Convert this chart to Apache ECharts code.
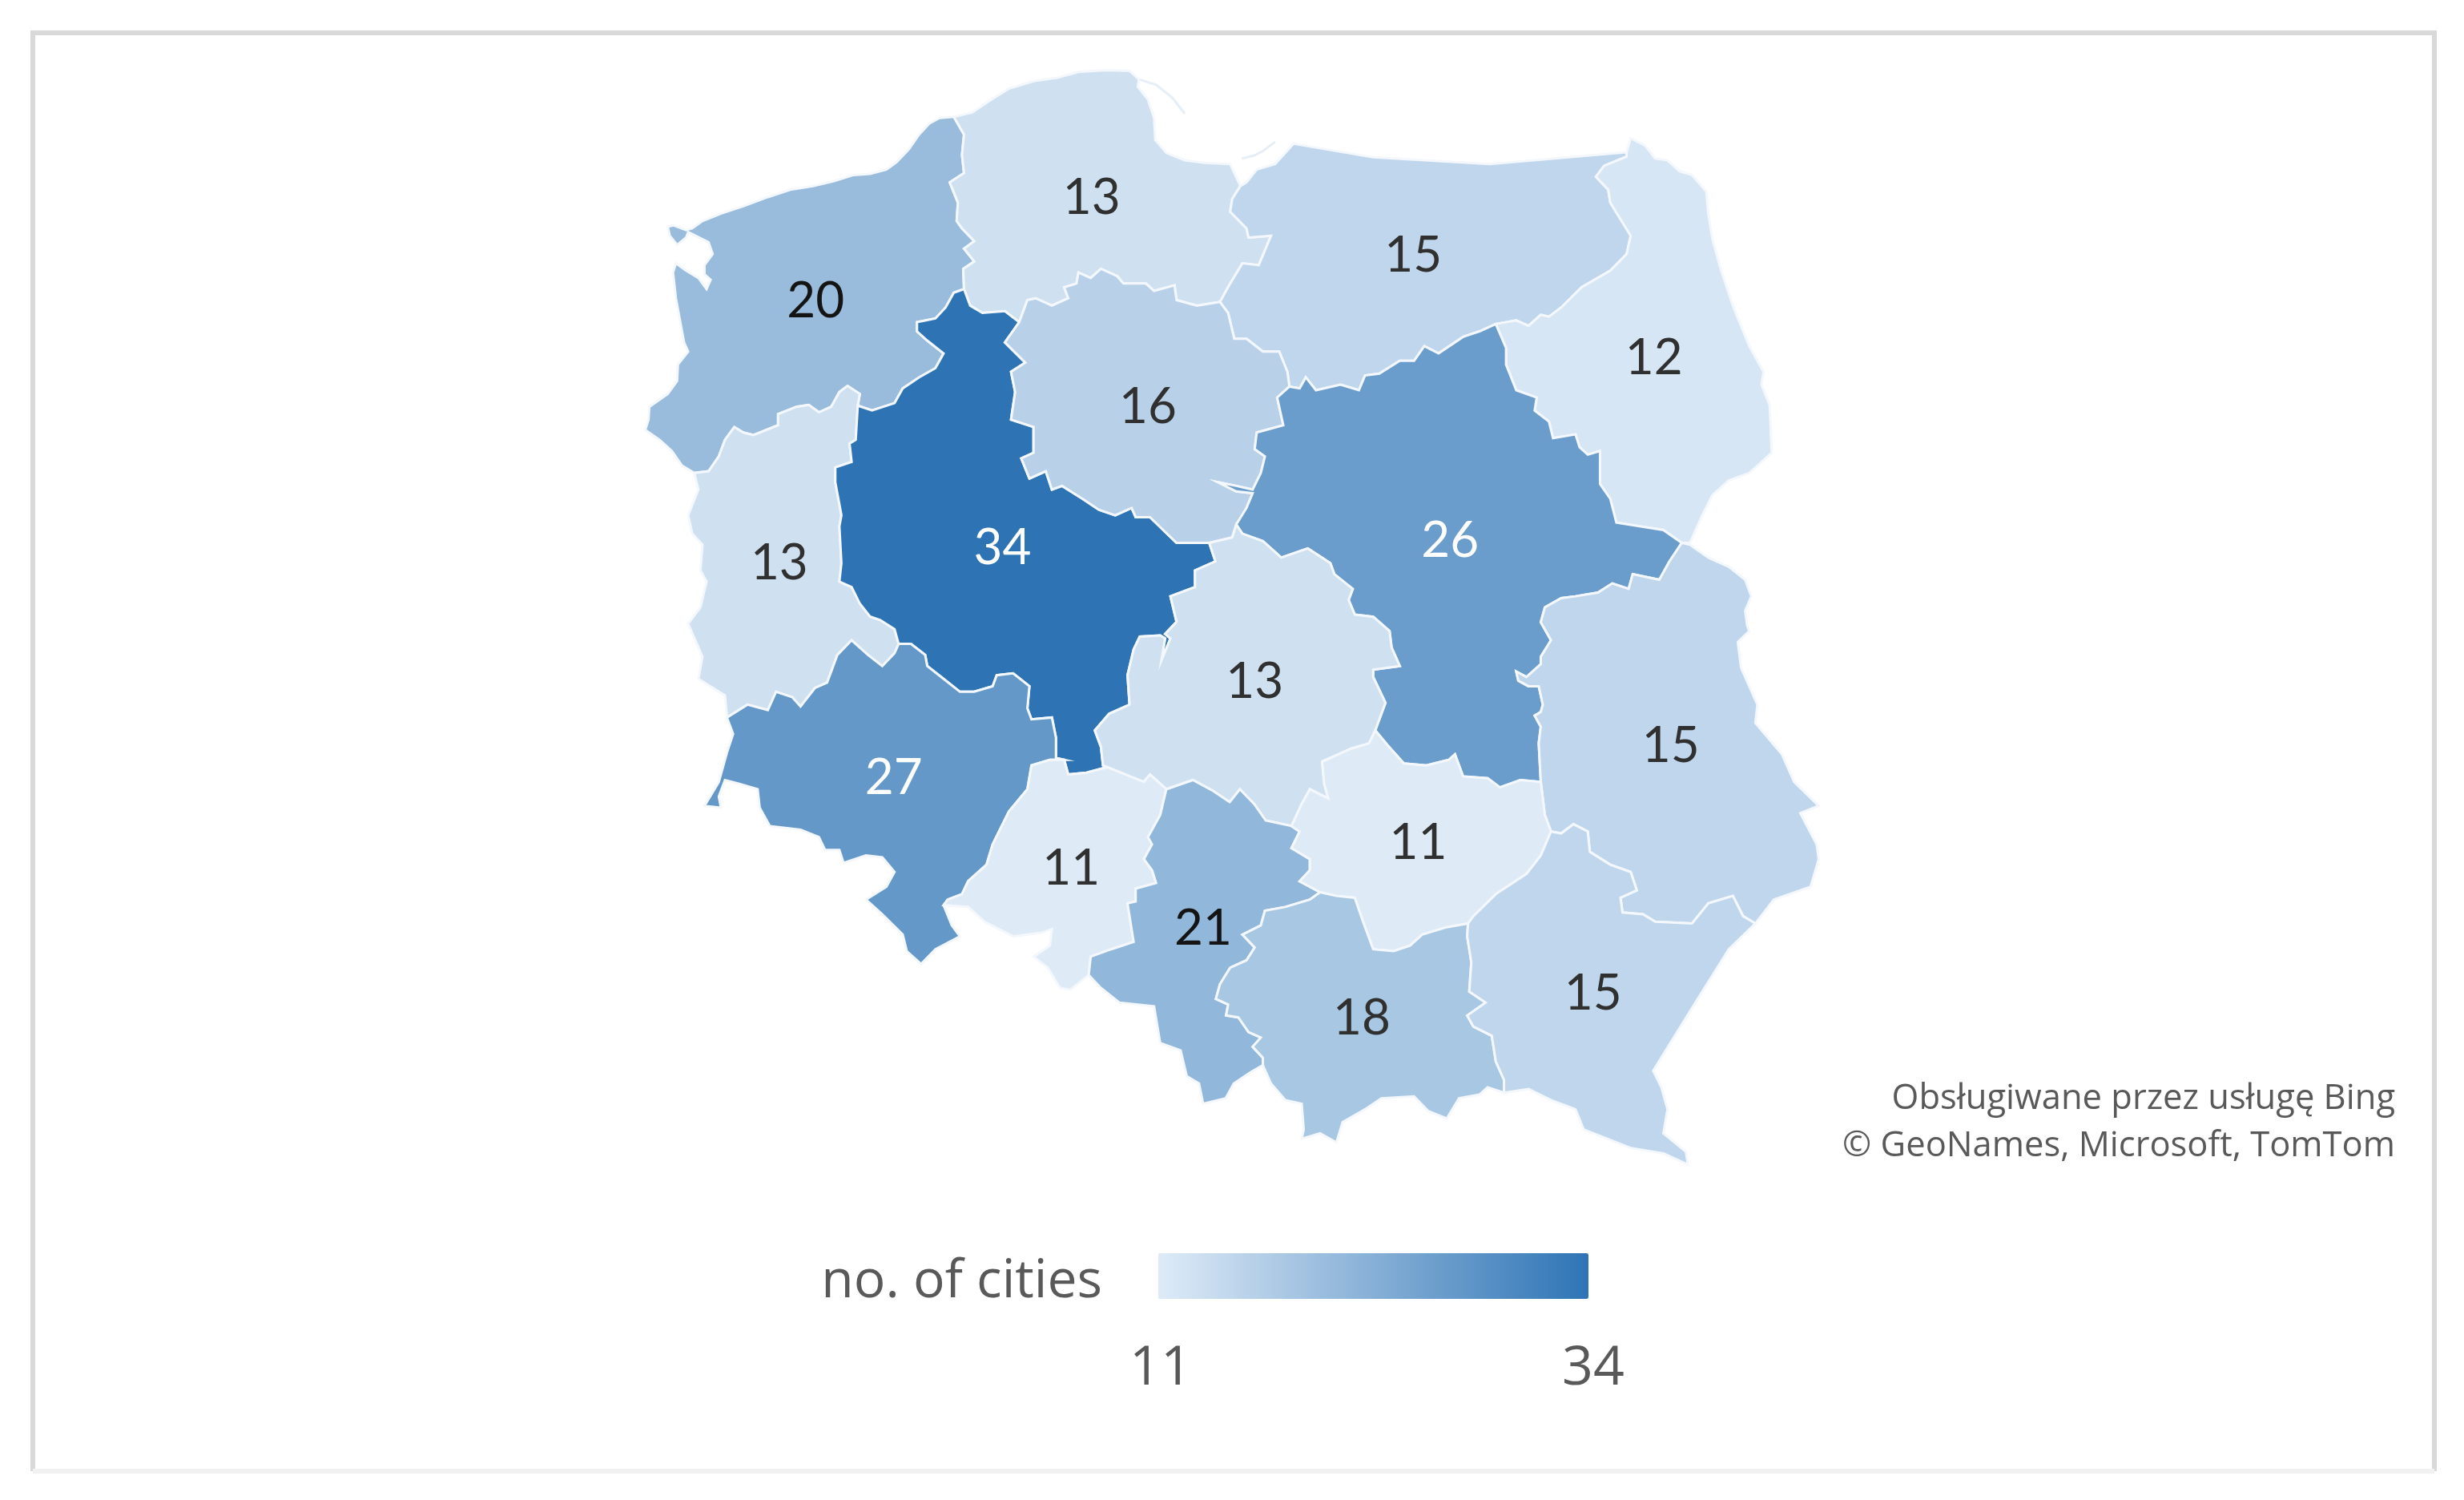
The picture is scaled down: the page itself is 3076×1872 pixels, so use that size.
<!DOCTYPE html>
<html lang="en">
<head>
<meta charset="UTF-8">
<title>Poland - no. of cities</title>
<script src="https://cdn.jsdelivr.net/npm/echarts@6/dist/echarts.min.js"></script>
<style>html,body{margin:0;padding:0;background:#fff}</style>
</head>
<body>
<div id="main" style="width:3076px;height:1872px;"></div>
<script>
// values
const regions = ['Zachodniopomorskie','Pomorskie','Warmińsko-Mazurskie','Podlaskie','Lubuskie','Wielkopolskie','Kujawsko-Pomorskie','Mazowieckie','Dolnośląskie','Łódzkie','Lubelskie','Opolskie','Śląskie','Świętokrzyskie','Małopolskie','Podkarpackie'];
const cities = [20,13,15,12,13,34,16,26,27,13,15,11,21,11,18,15];
const legendTitle = 'no. of cities';
const legendMin = 11;
const legendMax = 34;
const credits = ['Obsługiwane przez usługę Bing', '© GeoNames, Microsoft, TomTom'];

// borders were traced on four overlapping crops of the picture, each one squeezed
// to 1568x1568, so every crop gets its own little helper back to page pixels
const tile = (x0, y0) => pts => pts.map(p => [x0 + p[0] / 1.96, y0 + p[1] / 2.178]);
const A = tile(780, 60), B = tile(1500, 60), C = tile(780, 760), D = tile(1500, 760);

const arcs = {
  zpCoast: A([[805,187],[770,190],[745,205],[720,235],[695,275],[665,310],[640,330],[600,342],[560,345],[510,362],[460,375],[405,385],[350,405],[290,430],[235,450],[190,470],[165,490],[150,495],[120,482],[105,485],[110,510],[128,535],[150,515],[155,500],[205,528],[215,560],[195,590],[195,615],[210,630],[200,655],[180,625],[150,605],[125,585],[118,610],[125,680],[135,740],[145,800],[155,825],[130,860],[128,905],[105,940],[60,975],[58,1010],[50,1038],[85,1065],[115,1095],[140,1135],[170,1155]]),
  zpLb: A([[170,1155],[205,1150],[230,1110],[245,1065],[268,1030],[290,1045],[315,1052],[375,1025],[375,995],[420,975],[450,970],[475,990],[505,975],[525,935],[545,918],[575,940],[570,972]]),
  zpWp: A([[570,972],[605,985],[660,965],[680,925],[720,895],[760,870],[780,830],[740,795],[715,770],[715,745],[760,735],[785,705],[805,665],[830,655]]),
  zpPm: A([[830,655],[828,600],[855,580],[830,545],[855,525],[825,490],[812,470],[815,420],[795,365],[830,340],[825,290],[830,235],[805,187]]),
  pmCoast: A([[805,187],[850,175],[890,145],[940,110],[1000,90],[1060,80],[1110,65],[1180,60],[1235,62],[1258,85],[1255,105],[1280,140],[1295,190],[1298,250],[1325,285],[1370,305],[1420,312],[1481,315]]),
  pmWm0: B([[70,315],[95,375]]),
  pmWm: B([[95,375],[75,410],[70,445],[110,490],[115,515],[170,510],[140,590],[100,585],[70,640],[45,690]]),
  pmWp: A([[830,655],[845,700],[875,720],[930,715],[965,745]]),
  pmKp: [...A([[965,745],[985,685],[1005,680],[1045,700],[1085,680],[1075,650],[1105,640],[1110,610],[1140,625],[1165,600],[1205,620],[1220,640],[1275,640],[1295,660],[1345,645],[1350,685],[1400,700]]), ...B([[45,690]])],
  wmCoast: B([[95,375],[110,365],[135,330],[180,315],[205,285],[225,260],[420,297],[705,315],[1040,283]]),
  kpWm: B([[45,690],[65,720],[80,790],[110,790],[150,825],[190,825],[210,880],[215,920]]),
  mzWm: B([[215,920],[240,925],[255,895],[280,930],[340,915],[385,930],[400,890],[435,885],[485,850],[520,850],[545,810],[580,830],[640,785],[680,770],[720,750]]),
  wmPd: B([[720,750],[770,740],[800,755],[830,725],[850,730],[880,705],[930,650],[1000,605],[1040,560],[1050,510],[1025,465],[1000,420],[995,385],[965,350],[985,320],[1040,295],[1040,283]]),
  pdOuter: B([[1040,283],[1050,245],[1085,265],[1110,300],[1140,305],[1170,335],[1200,345],[1235,390],[1240,450],[1250,520],[1270,600],[1300,700],[1340,810],[1375,880],[1370,915],[1390,970],[1395,1100],[1340,1155],[1290,1175],[1250,1215],[1225,1270],[1195,1345],[1175,1345]]),
  mzPd: B([[720,750],[745,815],[745,860],[770,930],[820,950],[815,985],[850,1015],[860,1060],[915,1050],[925,1085],[945,1105],[975,1095],[975,1185],[1000,1225],[1015,1290],[1130,1310],[1175,1345]]),
  luOuter: [...B([[1175,1345],[1195,1350],[1240,1385],[1290,1410],[1330,1445],[1345,1490],[1330,1530]]), ...D([[1335,45],[1340,60],[1312,90],[1320,160],[1360,260],[1355,310],[1420,395],[1450,470],[1510,535],[1465,555],[1505,640],[1510,680],[1490,755],[1400,790],[1355,855]])],
  mzLu: [...B([[1175,1345],[1145,1395],[1120,1445],[1055,1430],[1045,1470],[1005,1455],[970,1480],[915,1490],[880,1495],[840,1520]]), ...D([[830,36],[855,85],[830,130],[830,150],[795,185],[770,170],[775,195],[800,210],[825,210],[835,260],[830,280],[815,290],[830,320],[825,365],[830,470]])],
  luSk: D([[830,470],[840,560],[855,605]]),
  luPk: D([[855,605],[880,610],[910,585],[945,605],[950,660],[1000,695],[1050,715],[1065,765],[1025,785],[1030,825],[1080,830],[1110,850],[1200,855],[1240,800],[1300,780],[1325,835],[1355,855]]),
  pkOuter: D([[1355,855],[1290,925],[1200,1085],[1105,1255],[1125,1300],[1140,1360],[1130,1425],[1185,1475],[1190,1510],[1130,1480],[1050,1465],[935,1415],[915,1360],[855,1335],[800,1305],[740,1315]]),
  skPk: D([[855,605],[830,670],[795,720],[720,775],[665,835],[652,855]]),
  pkMa: D([[652,855],[650,890],[660,960],[655,1040],[695,1070],[650,1105],[665,1135],[710,1160],[720,1230],[740,1280],[740,1315]]),
  mzSk: D([[830,470],[780,465],[730,485],[700,460],[640,455],[620,395],[605,410],[550,425],[495,420],[455,370],[425,330]]),
  skLd: D([[425,330],[410,365],[365,380],[295,415],[300,475],[310,515],[265,490],[245,530],[220,590]]),
  skSl: D([[220,590],[240,605],[220,650],[265,680],[265,710],[240,740],[290,770]]),
  skMa: D([[290,770],[330,780],[375,785],[395,850],[420,925],[470,930],[510,915],[540,885],[600,865],[652,855]]),
  maSl: D([[290,770],[265,790],[205,810],[155,820],[145,860],[100,885],[130,920],[110,955],[70,975],[45,1020],[35,1060],[65,1075],[60,1105],[90,1110],[115,1150],[145,1165],[125,1190],[150,1220],[150,1240]]),
  maOuter: D([[150,1240],[170,1290],[205,1335],[245,1345],[250,1415],[245,1440],[290,1425],[330,1450],[345,1395],[400,1360],[440,1330],[520,1325],[555,1365],[600,1385],[630,1330],[680,1320],[700,1300],[740,1315]]),
  slOuter: [...D([[150,1240]]), ...C([[1530,1260],[1490,1290],[1470,1330],[1415,1345],[1405,1290],[1375,1270],[1360,1200],[1310,1180],[1295,1080],[1210,1070],[1165,1030],[1135,995]])],
  slOp: C([[1135,995],[1140,945],[1190,925],[1245,905],[1230,800],[1250,795],[1250,760],[1300,745],[1290,710],[1270,680],[1290,640],[1280,620],[1310,560],[1325,490]]),
  slLd: [...C([[1325,490],[1390,465],[1440,495],[1480,525],[1505,490],[1540,530]]), ...D([[157,575],[220,590]])],
  opLd: C([[1325,490],[1285,450],[1270,470],[1180,430]]),
  opWp: C([[1180,430],[1130,445],[1085,450],[1075,410]]),
  opDs: C([[1075,410],[1040,410],[995,425],[985,490],[940,550],[900,640],[885,695],[840,740],[825,775],[790,790],[780,805]]),
  opOuter: C([[780,805],[840,810],[880,850],[950,890],[1020,880],[1045,870],[1040,915],[1000,945],[1035,975],[1065,1030],[1090,1035],[1135,995]]),
  dsOuter: C([[780,805],[800,860],[820,890],[760,925],[725,965],[690,930],[680,885],[630,830],[590,790],[640,755],[660,715],[630,675],[590,670],[535,690],[525,655],[490,655],[475,620],[430,600],[355,590],[330,540],[325,490],[280,475],[245,465],[230,510],[235,540],[195,535],[230,470],[250,390],[265,340],[250,295]]),
  dsLb: C([[250,295],[300,260],[350,275],[370,225],[410,240],[430,265],[465,215],[495,200],[520,125],[555,85],[595,125],[630,155],[660,120],[670,95]]),
  dsWp: C([[670,95],[700,95],[735,125],[740,155],[780,190],[820,225],[855,225],[900,210],[910,180],[950,175],[990,210],[985,270],[995,300],[1045,295],[1055,350],[1055,405],[1075,410]]),
  lbOuter: [...A([[170,1155],[180,1200],[155,1270],[165,1320],[190,1350],[185,1420],[200,1450],[185,1520]]), ...C([[155,40],[190,130],[180,190],[245,235],[250,295]])],
  lbWp: [...A([[570,972],[565,1065],[550,1075],[555,1125],[515,1140],[515,1180],[530,1270],[525,1300],[530,1400],[525,1450],[555,1465],[575,1510],[600,1545]]), ...C([[625,30],[660,55],[670,95]])],
  kpWp: A([[965,745],[930,800],[980,855],[945,880],[955,935],[945,1010],[1000,1030],[1000,1100],[970,1115],[990,1170],[1030,1150],[1045,1200],[1070,1190],[1120,1225],[1160,1255],[1200,1270],[1240,1250],[1250,1275],[1285,1275],[1350,1345],[1430,1345]]),
  kpMz: B([[215,920],[185,950],[200,1025],[135,1045],[130,1090],[155,1110],[145,1155],[125,1200],[85,1190],[40,1180],[85,1205],[125,1210],[110,1250],[85,1295]]),
  kpLd: [...B([[85,1295],[75,1330]]), ...A([[1430,1345]])],
  wpLd: [...A([[1430,1345],[1445,1395],[1395,1420],[1395,1465],[1335,1490]]), ...C([[1350,35],[1322,68],[1335,80],[1313,140],[1322,80],[1310,72],[1260,75],[1245,110],[1230,180],[1235,260],[1185,285],[1150,330],[1165,375],[1170,425],[1180,430]])],
  mzLd: [...B([[85,1295],[100,1320],[150,1340],[195,1385],[260,1360],[315,1400],[325,1430],[370,1470],[360,1500],[375,1540]]), ...D([[420,21],[460,60],[465,105],[485,155],[420,165],[420,185],[450,255],[425,330]])]
};

const rings = {
  'Zachodniopomorskie': ['zpCoast','zpLb','zpWp','zpPm'],
  'Pomorskie': ['pmCoast','pmWm0','pmWm','-pmKp','-pmWp','zpPm'],
  'Warmińsko-Mazurskie': ['wmCoast','-wmPd','-mzWm','-kpWm','-pmWm'],
  'Podlaskie': ['pdOuter','-mzPd','wmPd'],
  'Lubuskie': ['zpLb','lbWp','-dsLb','-lbOuter'],
  'Wielkopolskie': ['zpWp','pmWp','kpWp','wpLd','opWp','-dsWp','-lbWp'],
  'Kujawsko-Pomorskie': ['pmKp','kpWm','kpMz','kpLd','-kpWp'],
  'Mazowieckie': ['mzWm','mzPd','mzLu','mzSk','-mzLd','-kpMz'],
  'Dolnośląskie': ['dsOuter','dsLb','dsWp','opDs'],
  'Łódzkie': ['-kpLd','mzLd','skLd','-slLd','opLd','-wpLd'],
  'Lubelskie': ['luOuter','-luPk','-luSk','-mzLu'],
  'Opolskie': ['opLd','opWp','opDs','opOuter','slOp'],
  'Śląskie': ['skSl','maSl','slOuter','slOp','slLd'],
  'Świętokrzyskie': ['luSk','skPk','-skMa','-skSl','-skLd','-mzSk'],
  'Małopolskie': ['skMa','pkMa','-maOuter','-maSl'],
  'Podkarpackie': ['luPk','pkOuter','-pkMa','-skPk']
};

// where the numbers sit in the picture
const labelAt = {
  'Zachodniopomorskie': A([[467,688]])[0], 'Pomorskie': A([[1142,408]])[0],
  'Warmińsko-Mazurskie': B([[518,565]])[0], 'Podlaskie': B([[1107,843]])[0],
  'Lubuskie': A([[378,1400]])[0], 'Wielkopolskie': A([[924,1358]])[0],
  'Kujawsko-Pomorskie': A([[1280,975]])[0], 'Mazowieckie': B([[608,1340]])[0],
  'Dolnośląskie': C([[658,460]])[0], 'Łódzkie': D([[130,198]])[0],
  'Lubelskie': D([[1148,373]])[0], 'Opolskie': C([[1092,705]])[0],
  'Śląskie': C([[1415,868]])[0], 'Świętokrzyskie': D([[530,635]])[0],
  'Małopolskie': D([[392,1113]])[0], 'Podkarpackie': D([[958,1045]])[0]
};

// page pixels -> map coordinates (latitude grows upward, so y is flipped)
const toMap = p => [p[0], -p[1]];

function buildRing(parts) {
  let out = [];
  parts.forEach(name => {
    const rev = name[0] === '-';
    const arc = arcs[rev ? name.slice(1) : name];
    out = out.concat(rev ? arc.slice().reverse() : arc);
  });
  out.push(out[0]);
  return out.map(toMap);
}

const polandGeo = {
  type: 'FeatureCollection',
  features: regions.map(name => ({
    type: 'Feature',
    properties: { name: name, cp: toMap(labelAt[name]) },
    geometry: { type: 'Polygon', coordinates: [buildRing(rings[name])] }
  }))
};
echarts.registerMap('poland', polandGeo);

function labelColor(v) {
  if (v >= 26) return '#ffffff';
  if (v >= 20) return '#141414';
  return '#303030';
}

const greyText = '#595959';
const frame = '#d9d9d9';
const sideLine = (x1, y1, x2, y2, color) => ({
  type: 'line', silent: true,
  shape: { x1: x1, y1: y1, x2: x2, y2: y2 },
  style: { stroke: color, lineWidth: 6 }
});
const txt = (x, y, text, size, align) => ({
  type: 'text', silent: true, x: x, y: y,
  style: { text: text, fill: greyText, font: size + 'px "Open Sans"', textAlign: align, textVerticalAlign: 'top' }
});
// faint sand spits on the Baltic coast
const spit = pts => ({
  type: 'polyline', silent: true,
  shape: { points: pts },
  style: { stroke: '#e6eff7', lineWidth: 3, fill: null }
});

const myChart = echarts.init(document.getElementById('main'), null, { renderer: 'canvas' });
myChart.setOption({
  backgroundColor: '#ffffff',
  animation: false,
  visualMap: {
    type: 'continuous',
    min: legendMin,
    max: legendMax,
    orient: 'horizontal',
    left: 1446,
    top: 1564,
    padding: 0,
    itemWidth: 57,
    itemHeight: 537,
    calculable: false,
    realtime: false,
    hoverLink: false,
    text: null,
    inRange: { color: ['#deebf7', '#2e74b5'] }
  },
  graphic: [
    sideLine(41, 41, 3039, 41, frame),
    sideLine(41, 38, 41, 1836, frame),
    sideLine(3039, 38, 3039, 1836, frame),
    sideLine(41, 1836, 3039, 1836, '#f1f1f1'),
    spit(A([[1258,85],[1300,100],[1340,135],[1370,178]])),
    spit([...A([[1510,300],[1540,292]]), ...B([[150,280],[180,255]])]),
    txt(1376, 1567, legendTitle, 66, 'right'),
    txt(1449, 1675, String(legendMin), 68, 'center'),
    txt(1989, 1675, String(legendMax), 68, 'center'),
    txt(2990, 1350, credits[0], 43.5, 'right'),
    txt(2990, 1409, credits[1], 43.5, 'right')
  ],
  series: [{
    type: 'map',
    map: 'poland',
    roam: false,
    silent: true,
    aspectScale: 1,
    boundingCoords: [[0, 0], [3076, -1872]],
    left: 0,
    top: 0,
    width: 3076,
    height: 1872,
    selectedMode: false,
    itemStyle: { borderColor: '#f4f8fc', borderWidth: 3 },
    label: { show: true, fontFamily: 'Lato', fontSize: 62, formatter: '{c}' },
    data: regions.map((name, i) => ({
      name: name,
      value: cities[i],
      label: { color: labelColor(cities[i]) }
    }))
  }]
});
</script>
</body>
</html>
